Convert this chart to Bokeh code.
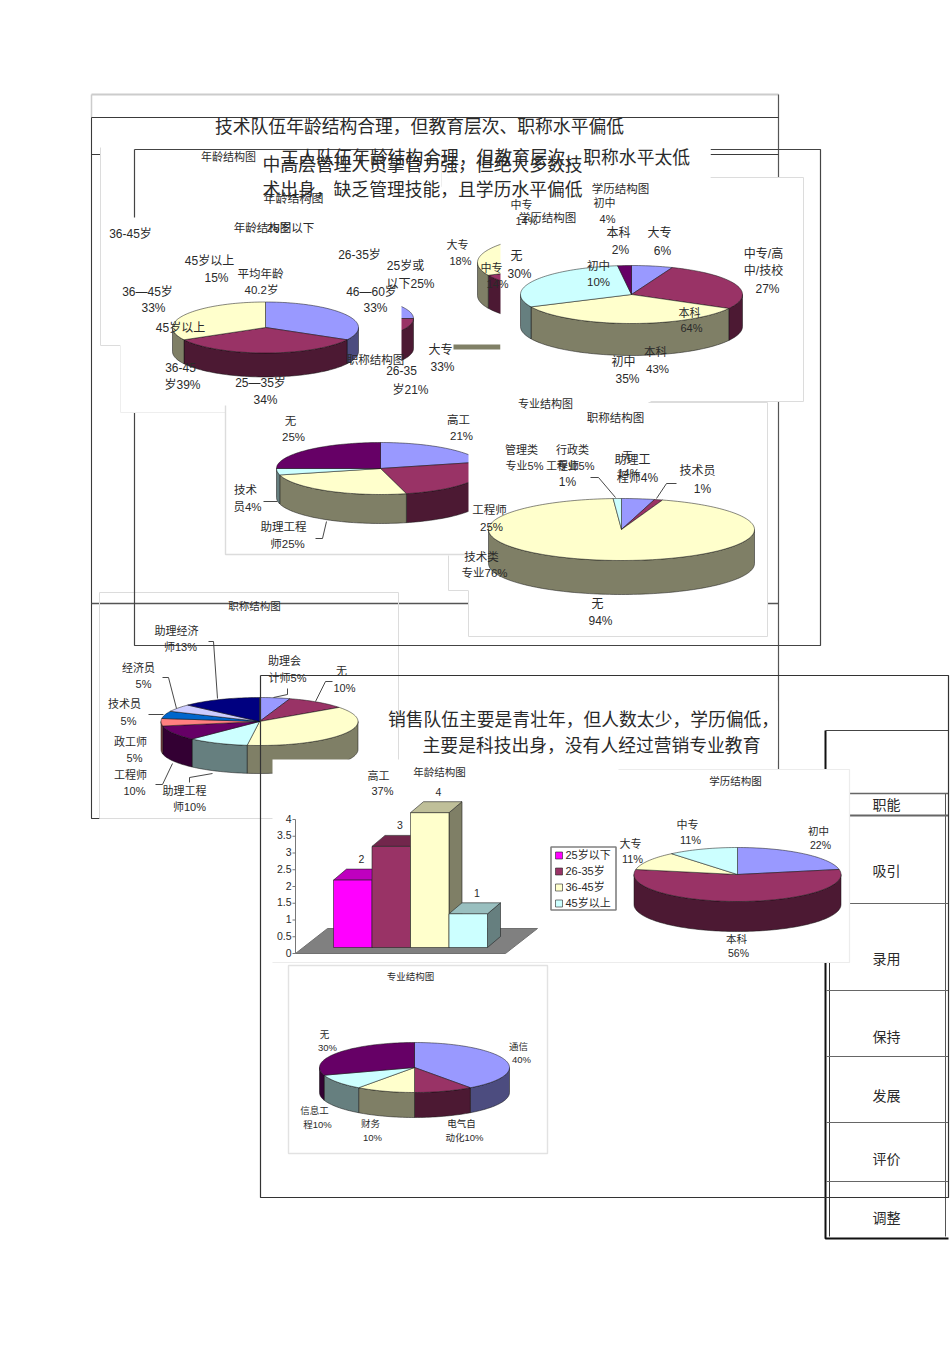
import math
from bokeh.plotting import figure
from bokeh.models import Range1d
from bokeh.core.properties import value
from bokeh.embed import file_html
from bokeh.resources import INLINE

# ---- chart values ----
age_a_values = [33, 34, 33]            # 46-60, 25-35, 36-45
age_b_values = [25, 21, 39, 15]        # 25岁或以下, 26-35, 36-45, 45岁以上
edu_a_values = [6, 27, 35, 30, 2]      # 大专, 中专/高中/技校, 初中, 无, 本科
edu_b_values = [4, 64, 18, 14]         # 初中, 本科, 大专, 中专
title_a_values = [21, 25, 25, 4, 25]   # 高工, 工程师, 助理工程师, 技术员, 无
title_b_values = [4, 1, 94, 1]         # 助理工程师, 技术员, 无, 工程师
title_c_values = [5, 10, 37, 10, 10, 5, 5, 5, 13]
edu_c_values = [22, 56, 11, 11]        # 初中, 本科, 大专, 中专
major_values = [40, 10, 10, 10, 30]    # 通信, 电气自动化, 财务, 信息工程, 无
sales_age_categories = ["25岁以下", "26-35岁", "36-45岁", "45岁以上"]
sales_age_values = [2, 3, 4, 1]
sales_tick_labels = ["0", "0.5", "1", "1.5", "2", "2.5", "3", "3.5", "4"]
table_rows = ["职能", "吸引", "录用", "保持", "发展", "评价", "调整"]

# ---- styles ----
BLUE, MAROON, YELLOW, CYAN, PURPLE = "#9999FF", "#993366", "#FFFFCC", "#CCFFFF", "#660066"
CORAL, MIDBLUE, LILAC, NAVY = "#FF8080", "#0066CC", "#CCCCFF", "#000080"
BASE = [BLUE, MAROON, YELLOW, CYAN, PURPLE]
DARK = "#3a3a3a"
LIGHT = "#dcdcdc"
INK = "#2a2a2a"
FONT = value("Liberation Sans, Noto Sans CJK SC")
CJK = value("Noto Sans CJK SC")

p = figure(width=950, height=1346, x_range=Range1d(0, 950), y_range=Range1d(1346, 0),
           toolbar_location=None, output_backend="svg", min_border=0,
           x_axis_type=None, y_axis_type=None, outline_line_color=None)
p.grid.visible = False


def shade(c, f=0.5):
    r, g, b = int(c[1:3], 16), int(c[3:5], 16), int(c[5:7], 16)
    return "#%02x%02x%02x" % (int(r * f), int(g * f), int(b * f))


def seg(pts, color=DARK, width=1.0):
    p.line([q[0] for q in pts], [q[1] for q in pts], line_color=color, line_width=width)


def white(x0, y0, x1, y1):
    p.quad(left=x0, right=x1, top=y0, bottom=y1, fill_color="white", line_color=None)


def pie(cx, cy, rx, ry, depth, values, colors):
    total = float(sum(values))
    a = 0.0
    spans = []
    for v in values:
        b = a + v / total * 2 * math.pi
        spans.append((a, b))
        a = b

    def arc(a0, b0):
        n = max(2, int((b0 - a0) / 0.03))
        return [(a0 + (b0 - a0) * i / n) for i in range(n + 1)]

    for (a0, b0), c in zip(spans, colors):
        s, e = max(a0, math.pi / 2), min(b0, 3 * math.pi / 2)
        if e > s:
            ts = arc(s, e)
            xs = [cx + rx * math.sin(t) for t in ts]
            ys = [cy - ry * math.cos(t) for t in ts]
            p.patch(xs + xs[::-1], ys + [y + depth for y in ys[::-1]],
                    fill_color=shade(c), line_color="#111111", line_width=0.5)
    for (a0, b0), c in zip(spans, colors):
        ts = arc(a0, b0)
        xs = [cx] + [cx + rx * math.sin(t) for t in ts]
        ys = [cy] + [cy - ry * math.cos(t) for t in ts]
        p.patch(xs, ys, fill_color=c, line_color="#111111", line_width=0.5)


# ---- frame of slide 1 ----
seg([(91, 94), (778, 94)], "#cccccc", 2)
seg([(91, 94), (91, 117)], "#cccccc", 1.5)
seg([(778, 94), (778, 778)], "#555555", 1.2)
seg([(91, 117), (778, 117)], DARK)
seg([(91, 117), (91, 818), (272, 818)], DARK, 1.1)
seg([(91, 154), (778, 154)], DARK)
seg([(91, 603), (778, 603)], "#555555", 1.4)

# panel behind slide 2's frame
white(100, 147, 400, 345)
seg([(100, 147), (100, 345), (120, 345)], LIGHT)
seg([(99, 592), (398, 592), (398, 818), (99, 818), (99, 592)], LIGHT)

# ---- frame of slide 2 ----
seg([(134, 149), (820, 149), (820, 645), (134, 645), (134, 149)], "#444444", 1.2)

# hidden charts clipped by the panels above them
pie(323, 318, 90, 24, 30, age_b_values, BASE)
white(120, 217, 401, 412)
seg([(120, 345), (120, 412), (225, 412)], "#eeeeee")
white(392, 147, 710, 177)
seg([(441, 150), (441, 186)], LIGHT)
white(401, 150, 441, 186)
pie(265, 327, 93, 25.5, 24, age_a_values, BASE)

pie(590, 262, 113, 30, 33, edu_b_values, BASE)
p.quad(left=453, right=500, top=344, bottom=349, fill_color="#808066", line_color=None)
white(500, 177, 803, 401)
seg([(710, 177), (803, 177), (803, 401), (650, 401)], LIGHT)
white(500, 147, 710, 177)
pie(631, 294, 111, 29, 32, edu_a_values, BASE)

white(448, 405, 648, 590)
seg([(448, 555), (448, 590), (468, 590)], LIGHT)
white(225, 405, 470, 554)
seg([(225, 405), (225, 554), (470, 554)], LIGHT, 1.4)
pie(380, 468, 104, 26, 29, title_a_values, BASE)
white(468, 402, 767, 636)
seg([(648, 402), (767, 402), (767, 636), (468, 636), (468, 590)], LIGHT)
pie(621, 529, 133, 31, 34, title_b_values, [BLUE, MAROON, YELLOW, CYAN])

# ---- lower-left chart, under slide 3's frame ----
pie(259, 721, 98.5, 24, 28, title_c_values,
    [BLUE, MAROON, YELLOW, CYAN, PURPLE, CORAL, MIDBLUE, LILAC, NAVY])

# ---- table on the right ----
seg([(825, 730), (825, 1238), (948, 1238)], "#111111", 2)
seg([(825, 730), (948, 730)], "#444444", 1.2)
seg([(829, 793), (829, 1236)], "#333333", 1)
seg([(945, 793), (945, 1236)], "#555555", 1)
for yy, w in zip([793, 815, 903, 990, 1056, 1122, 1181], [1.6, 2, 1.2, 1.2, 1.2, 1.2, 1.2]):
    seg([(826, yy), (948, yy)], "#666666", w)

# ---- frame of slide 3 ----
seg([(260, 675), (948, 675), (948, 1197), (260, 1197), (260, 675)], "#333333", 1.2)
white(399, 700, 777, 760)
white(272, 759, 618, 962)
white(618, 769, 849, 962)
seg([(618, 769), (849, 769), (849, 962), (272, 962)], "#ececec", 1.2)

# ---- 3D column chart ----
tick_y = [953 - i * 16.75 for i in range(len(sales_tick_labels))]
floor_x, floor_y = [295, 327, 537, 505], [953, 928, 928, 953]
p.patch(floor_x, floor_y, fill_color="#808080", line_color="#707070")
seg([(295, 819), (295, 953)], "#777777", 1)
p.segment(x0=[292] * len(tick_y), x1=[295] * len(tick_y), y0=tick_y, y1=tick_y,
          line_color="#777777", line_width=1)
bar_colors = ["#FF00FF", MAROON, YELLOW, CYAN]
bar_left, bar_w, bar_base, unit, dx, dy = 333, 38.5, 947, 33.7, 13, 11
for i, (val, c) in enumerate(zip(sales_age_values, bar_colors)):
    l = bar_left + i * bar_w
    r = l + bar_w
    t = bar_base - val * unit
    p.patch([r, r + dx, r + dx, r], [bar_base, bar_base - dy, t - dy, t],
            fill_color=shade(c, 0.5), line_color="#222222", line_width=0.6)
    p.patch([l, l + dx, r + dx, r], [t, t - dy, t - dy, t],
            fill_color=shade(c, 0.75), line_color="#222222", line_width=0.6)
    p.quad(left=l, right=r, top=t, bottom=bar_base, fill_color=c,
           line_color="#222222", line_width=0.6)

# legend
p.quad(left=550.5, right=615.5, top=846.5, bottom=909.5, fill_color="white",
       line_color="#808080", line_width=1.6)
for i, (cat, c) in enumerate(zip(sales_age_categories, bar_colors)):
    yy = 855 + i * 16
    p.quad(left=555, right=562, top=yy - 3.5, bottom=yy + 3.5, fill_color=c,
           line_color="#222222", line_width=0.6)
    p.text([565], [yy - 1], [cat], text_font=FONT, text_font_size="11px", text_color=INK,
           text_baseline="middle", text_align="left")

pie(737, 874, 103.5, 27, 30, edu_c_values, [BLUE, MAROON, YELLOW, CYAN])

# ---- major chart ----
p.quad(left=288, right=547, top=965, bottom=1153, fill_color="white", line_color="#e2e2e2", line_width=1.4)
pie(414, 1067, 95, 25, 25, major_values, BASE)

# ---- leader lines ----
for pts in [
    [(208, 641), (213, 641), (217, 698)],
    [(162, 677), (168, 677), (176, 708)],
    [(148, 714), (163, 714)],
    [(155, 784), (162, 784), (172, 763)],
    [(189, 782), (189, 777), (212, 773)],
    [(287, 688), (287, 694), (273, 697)],
    [(332, 681), (325, 681), (315, 701)],
    [(263, 501), (277, 501)],
    [(315, 538), (322, 538), (326, 521)],
    [(590, 477), (598, 477), (615, 497)],
    [(676, 483), (666, 483), (656, 498)],
]:
    seg(pts, "#333333", 0.9)

# ---- headings ----
headings = [
    (419, 124, "技术队伍年龄结构合理，但教育层次、职称水平偏低"),
    (485, 155, "工人队伍年龄结构合理，但教育层次、职称水平太低"),
    (422, 162, "中高层管理人员掌管力强，但绝大多数技"),
    (422, 187, "术出身，缺乏管理技能，且学历水平偏低"),
    (583, 717, "销售队伍主要是青壮年，但人数太少，学历偏低，"),
    (591, 743, "主要是科技出身，没有人经过营销专业教育"),
]
for x, y, t in headings:
    p.text([x], [y], [t], text_font=CJK, text_font_size="17.8px", text_color=INK,
           text_align="center", text_baseline="middle")

# ---- labels: x, y, size, text ----
labels = [
    (228, 157, 11, "年龄结构图"), (293, 199, 12, "年龄结构图"), (262, 228, 11.5, "年龄结构图"),
    (290, 228, 11.5, "25岁以下"), (130, 234, 12, "36-45岁"), (209, 261, 12, "45岁以上"), (216, 278, 12, "15%"),
    (260, 274, 11.5, "平均年龄"), (261, 290, 11.5, "40.2岁"), (359, 255, 12, "26-35岁"),
    (405, 266, 12, "25岁或"), (410, 284, 12, "以下25%"), (371, 292, 12, "46—60岁"), (375, 308, 12, "33%"),
    (147, 292, 12, "36—45岁"), (153, 308, 12, "33%"), (180, 328, 12, "45岁以上"),
    (180, 368, 12, "36-45"), (182, 385, 12, "岁39%"), (260, 383, 12, "25—35岁"), (265, 400, 12, "34%"),
    (375, 360, 11.5, "职称结构图"), (401, 371, 12, "26-35"), (410, 390, 12, "岁21%"),
    (440, 350, 12, "大专"), (442, 367, 12, "33%"), (457, 245, 11, "大专"), (460, 261, 11, "18%"),
    (491, 268, 11, "中专"), (497, 284, 11, "14%"), (521, 205, 11, "中专"), (526, 221, 11, "14%"),
    (547, 218, 11.5, "学历结构图"), (620, 189, 11.5, "学历结构图"), (604, 203, 11, "初中"), (607, 219, 11, "4%"),
    (618, 233, 12, "本科"), (620, 250, 12, "2%"), (659, 233, 12, "大专"), (662, 251, 12, "6%"),
    (763, 254, 12, "中专/高"), (763, 271, 12, "中/技校"), (767, 289, 12, "27%"),
    (516, 256, 12, "无"), (519, 274, 12, "30%"), (598, 266, 11.5, "初中"), (598, 282, 11.5, "10%"),
    (689, 313, 11, "本科"), (691, 328, 11, "64%"), (655, 352, 11.5, "本科"), (657, 369, 11.5, "43%"),
    (623, 362, 12, "初中"), (627, 379, 12, "35%"),
    (545, 404, 11, "专业结构图"), (615, 418, 11.5, "职称结构图"), (290, 421, 11.5, "无"), (293, 437, 11.5, "25%"),
    (458, 420, 11.5, "高工"), (461, 436, 11.5, "21%"), (521, 450, 11, "管理类"), (524, 466, 11, "专业5%"),
    (572, 450, 11, "行政类"), (575, 466, 11, "专业5%"), (562, 466, 11, "工程师"), (567, 482, 12, "1%"),
    (627, 456, 11, "无"), (628, 473, 11, "14%"), (632, 460, 12, "助理工"), (637, 478, 12, "程师4%"),
    (697, 471, 12, "技术员"), (702, 489, 12, "1%"), (489, 510, 11.5, "工程师"), (491, 527, 11.5, "25%"),
    (245, 490, 11.5, "技术"), (247, 507, 11.5, "员4%"), (283, 527, 11.5, "助理工程"), (287, 544, 11.5, "师25%"),
    (481, 557, 11.5, "技术类"), (484, 573, 11.5, "专业76%"), (597, 604, 12, "无"), (600, 621, 12, "94%"),
    (254, 606, 10.5, "职称结构图"), (176, 631, 11, "助理经济"), (180, 647, 11, "师13%"),
    (138, 668, 11, "经济员"), (143, 684, 11, "5%"), (124, 704, 11, "技术员"), (128, 721, 11, "5%"),
    (130, 742, 11, "政工师"), (134, 758, 11, "5%"), (130, 775, 11, "工程师"), (134, 791, 11, "10%"),
    (184, 791, 11, "助理工程"), (189, 807, 11, "师10%"), (284, 661, 11, "助理会"), (287, 678, 11, "计师5%"),
    (341, 671, 11, "无"), (344, 688, 11, "10%"), (378, 776, 11, "高工"), (382, 791, 11, "37%"),
    (439, 772, 10.5, "年龄结构图"), (735, 781, 10.5, "学历结构图"), (630, 844, 11, "大专"), (632, 859, 11, "11%"),
    (687, 825, 11, "中专"), (690, 840, 11, "11%"), (818, 831, 10.5, "初中"), (820, 845, 10.5, "22%"),
    (736, 939, 10.5, "本科"), (738, 953, 10.5, "56%"), (410, 977, 9.5, "专业结构图"),
    (324, 1035, 9.5, "无"), (327, 1048, 9.5, "30%"), (518, 1047, 9.5, "通信"), (521, 1060, 9.5, "40%"),
    (314, 1111, 9.5, "信息工"), (317, 1125, 9.5, "程10%"), (370, 1124, 9.5, "财务"), (372, 1138, 9.5, "10%"),
    (461, 1124, 9.5, "电气自"), (464, 1138, 9.5, "动化10%"),
]
for x, y, s, t in labels:
    p.text([x], [y - 1], [t], text_font=FONT, text_font_size=f"{s}px", text_color=INK,
           text_align="center", text_baseline="middle")

# column value labels and axis tick labels
for i, val in enumerate(sales_age_values):
    p.text([bar_left + i * bar_w + 28], [bar_base - val * unit - 21], [str(val)], text_font=FONT,
           text_font_size="10.5px", text_color=INK, text_align="center", text_baseline="middle")
p.text([291] * len(tick_y), [y - 1 for y in tick_y], sales_tick_labels, text_font=FONT, text_font_size="10.5px",
       text_color=INK, text_align="right", text_baseline="middle")

# table row names
for yy, name in zip([803, 869, 957, 1035, 1094, 1157, 1216], table_rows):
    p.text([886], [yy], [name], text_font=CJK, text_font_size="14px", text_color=INK,
           text_align="center", text_baseline="middle")

open("out.html", "w").write(file_html(p, INLINE))
